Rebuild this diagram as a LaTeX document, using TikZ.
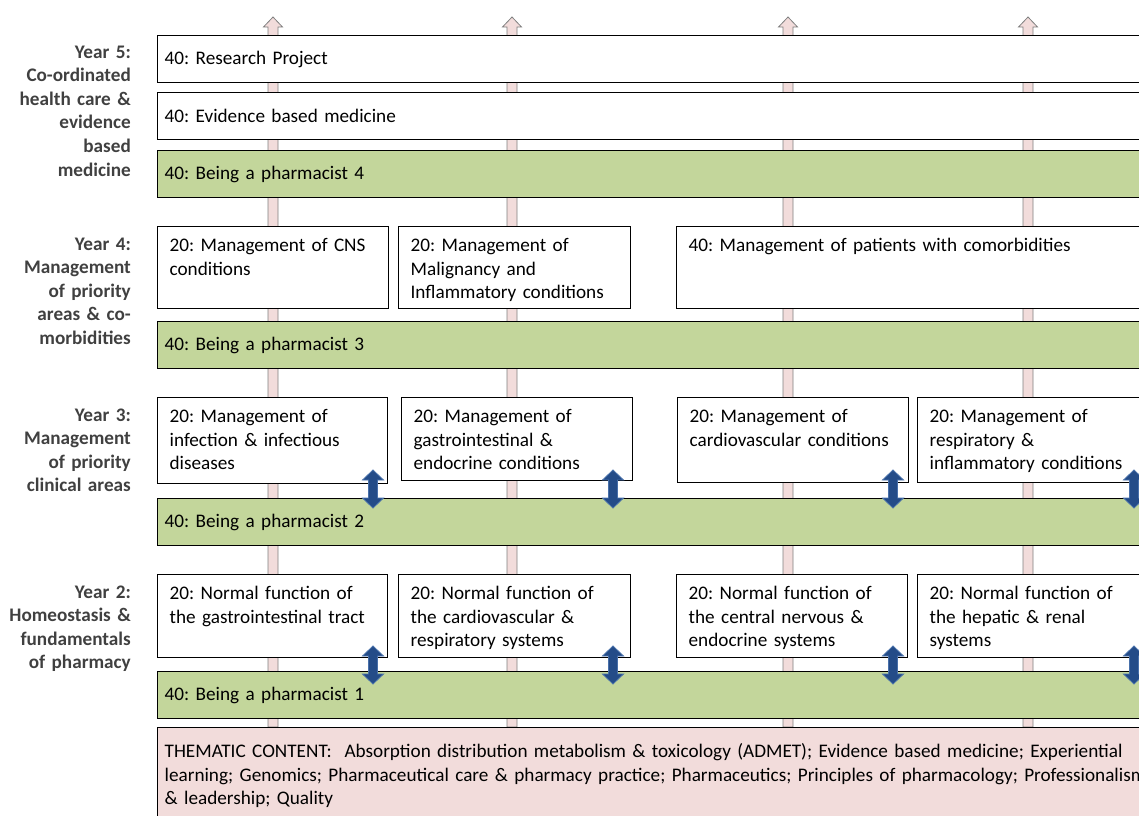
\documentclass[tikz,border=0pt]{standalone}
\usepackage{fontspec}
\setmainfont{Carlito}
\frenchspacing
\definecolor{pharmgreen}{RGB}{195,214,155}
\definecolor{themepink}{RGB}{242,220,219}
\definecolor{yeargray}{RGB}{64,64,64}
\definecolor{linkblue}{RGB}{36,76,136}
\definecolor{linkedge}{RGB}{72,112,170}
\newcommand{\modfont}{\fontsize{19.2}{23.6}\selectfont}
\tikzset{
  panel/.style={draw=black, line width=1.3pt, fill=white, anchor=north west,
    align=left, inner xsep=12pt, inner ysep=0pt, font=\modfont},
  module/.style={panel, text height=25pt, text depth=#1},
  fullrow/.style={panel, inner xsep=7pt, text width=990pt, minimum height=47pt},
  pharm/.style={fullrow, fill=pharmgreen},
  yearlabel/.style={anchor=base east, text width=130pt, align=right, inner sep=0pt,
    font=\modfont\bfseries, text=yeargray},
  bar/.style={draw=black!50, line width=0.8pt, fill=themepink},
  link/.style={draw=linkedge, line width=0.8pt, fill=linkblue}
}
\begin{document}
\begin{tikzpicture}[x=1pt, y=-1pt]
\useasboundingbox (0,0) rectangle (1139,815);
\clip (0,0) rectangle (1139,815);

% Progression bars through the years
\foreach \bx in {273,512,788,1028}
  \draw[bar] (\bx-5,727) -- (\bx-5,27) -- (\bx-9.5,27) -- (\bx,17)
    -- (\bx+9.5,27) -- (\bx+5,27) -- (\bx+5,727) -- cycle;

% Year labels
\node[yearlabel] (yr5) at (131,58) {Year 5:\\Co-ordinated\\health care \&\\evidence\\based\\medicine};
\node[yearlabel] (yr4) at (131,250) {Year 4:\\Management\\of priority\\areas \& co-\\morbidities};
\node[yearlabel] (yr3) at (131,421) {Year 3:\\Management\\of priority\\clinical areas};
\node[yearlabel] (yr2) at (131,598) {Year 2:\\Homeostasis \&\\fundamentals\\of pharmacy};

% Year 5
\node[fullrow] (proj) at (157,35) {40: Research Project};
\node[fullrow] (ebm) at (157,92) {40: Evidence based medicine};
\node[pharm] (bp4) at (157,150) {40: Being a pharmacist 4};

% Year 4
\node[module=57pt, text width=207pt] (cns) at (157,226) {20: Management of CNS\\conditions};
\node[module=57pt, text width=208pt] (malig) at (398,226) {20: Management of\\Malignancy and\\Inflammatory conditions};
\node[module=57pt, text width=470pt] (comorb) at (676,226) {40: Management of patients with comorbidities};
\node[pharm] (bp3) at (157,321) {40: Being a pharmacist 3};

% Year 3
\node[module=61pt, text width=206pt] (infect) at (157,397) {20: Management of\\infection \& infectious\\diseases};
\node[module=58pt, text width=207pt] (gastro) at (401,397) {20: Management of\\gastrointestinal \&\\endocrine conditions};
\node[module=60pt, text width=207pt] (cardio) at (677,397) {20: Management of\\cardiovascular conditions};
\node[module=60pt, text width=300pt] (resp) at (917,397) {20: Management of\\respiratory \&\\inflammatory conditions};
\node[pharm] (bp2) at (157,498) {40: Being a pharmacist 2};

% Year 2
\node[module=58pt, text width=206pt] (gitract) at (157,574) {20: Normal function of\\the gastrointestinal tract};
\node[module=58pt, text width=208pt] (cvresp) at (398,574) {20: Normal function of\\the cardiovascular \&\\respiratory systems};
\node[module=58pt, text width=207pt] (cnsend) at (676,574) {20: Normal function of\\the central nervous \&\\endocrine systems};
\node[module=58pt, text width=300pt] (hepren) at (917,574) {20: Normal function of\\the hepatic \& renal\\systems};
\node[pharm] (bp1) at (157,671) {40: Being a pharmacist 1};

% Thematic content
\node[panel, fill=themepink, inner xsep=7pt, text width=1000pt, text height=30pt, text depth=100pt] (theme) at (157,727)
  {THEMATIC CONTENT:\ \ Absorption distribution metabolism \& toxicology (ADMET); Evidence based medicine; Experiential\\
   learning; Genomics; Pharmaceutical care \& pharmacy practice; Pharmaceutics; Principles of pharmacology; Professionalism\\
   \& leadership; Quality};

% Links between modules and Being a pharmacist
\foreach \ax in {373,613,893,1134}
  \foreach \ay in {470,646}
    \draw[link] (\ax,\ay) -- (\ax+10.5,\ay+10) -- (\ax+4.5,\ay+10) -- (\ax+4.5,\ay+28)
      -- (\ax+10.5,\ay+28) -- (\ax,\ay+38) -- (\ax-10.5,\ay+28) -- (\ax-4.5,\ay+28)
      -- (\ax-4.5,\ay+10) -- (\ax-10.5,\ay+10) -- cycle;

\end{tikzpicture}
\end{document}
